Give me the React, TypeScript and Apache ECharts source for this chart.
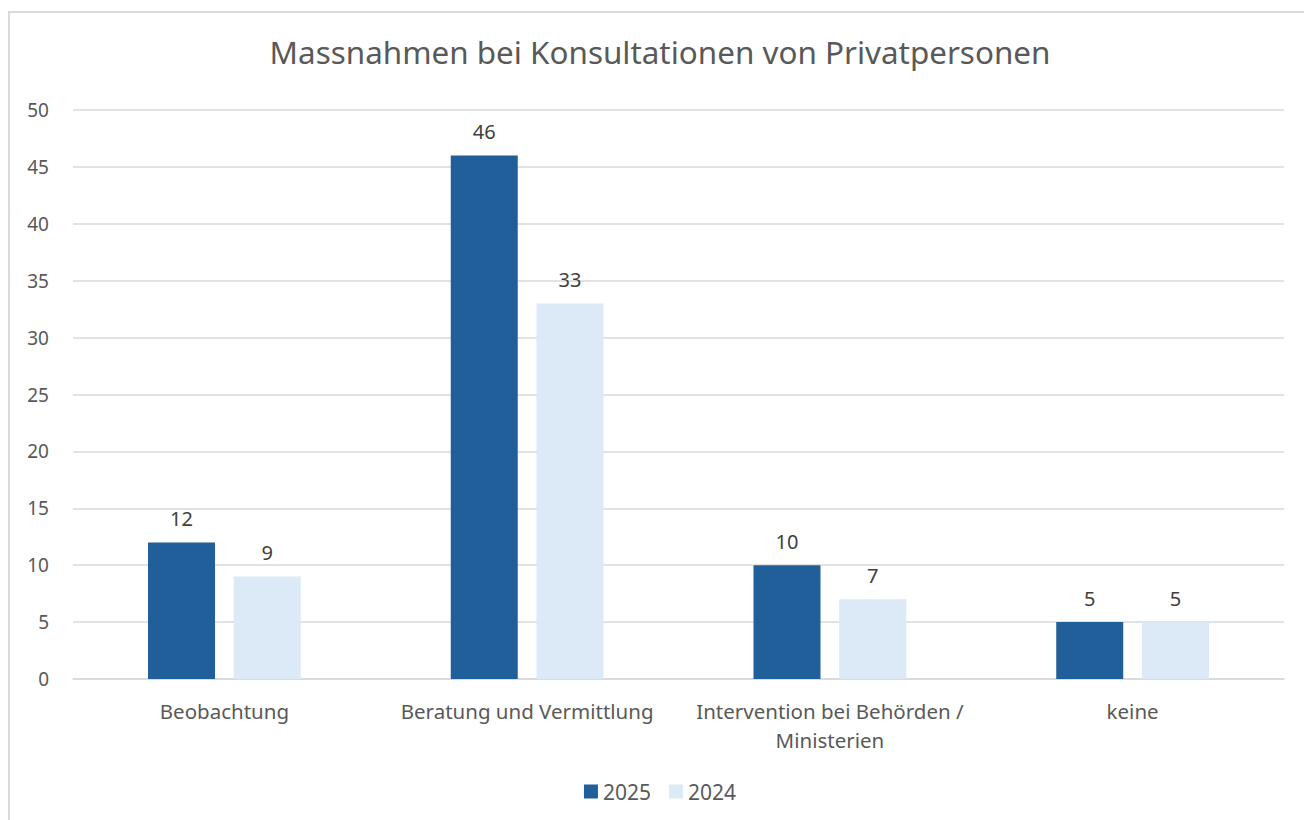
import React, { useEffect, useRef } from "react";
import * as echarts from "echarts";

const title = "Massnahmen bei Konsultationen von Privatpersonen";
const categories = ["Beobachtung", "Beratung und Vermittlung", "Intervention bei Behörden / Ministerien", "keine"];
const seriesNames = ["2025", "2024"];
const values2025 = [12, 46, 10, 5];
const values2024 = [9, 33, 7, 5];
const colors = ["#215F9A", "#DCE9F6"];

const FONT = "'Noto Sans', sans-serif";
const TXT = "#595959";

export default function App() {
  const ref = useRef<HTMLDivElement>(null);
  useEffect(() => {
    if (!ref.current) return;
    const chart = echarts.init(ref.current, undefined, { renderer: "svg" });
    const label = {
      show: true,
      position: "top" as const,
      distance: 14,
      color: "#404040",
      fontSize: 20,
      fontFamily: FONT,
    };
    chart.setOption({
      animation: false,
      textStyle: { fontFamily: FONT },
      title: {
        text: title,
        left: "center",
        top: 23,
        textStyle: { fontSize: 31.4, fontWeight: "normal", color: TXT, fontFamily: FONT },
      },
      graphic: [
        {
          type: "rect",
          shape: { x: 1, y: 4, width: 1400, height: 900 },
          style: { fill: "none", stroke: "#D9D9D9", lineWidth: 2 },
          silent: true,
        },
      ],
      legend: {
        data: seriesNames,
        bottom: 13,
        left: "center",
        itemWidth: 14,
        itemHeight: 14,
        itemGap: 18,
        icon: "rect",
        textStyle: { fontSize: 21, color: TXT, fontFamily: FONT },
      },
      grid: { left: 65, right: 28, top: 102, bottom: 141, containLabel: false },
      xAxis: {
        type: "category",
        data: categories,
        axisLine: { lineStyle: { color: "#D9D9D9", width: 1.5 } },
        axisTick: { show: false },
        axisLabel: {
          color: TXT,
          fontSize: 20.5,
          fontFamily: FONT,
          margin: 17,
          lineHeight: 29,
          interval: 0,
          formatter: (v: string) => v.replace(" / ", " /\n"),
        },
      },
      yAxis: {
        type: "value",
        min: 0,
        max: 50,
        interval: 5,
        axisLine: { show: false },
        axisTick: { show: false },
        splitLine: { lineStyle: { color: "#D9D9D9", width: 1.5 } },
        axisLabel: { color: TXT, fontSize: 19, fontFamily: FONT, margin: 24 },
      },
      series: [
        {
          name: seriesNames[0],
          type: "bar",
          data: values2025,
          barWidth: 67,
          barGap: "28%",
          itemStyle: { color: colors[0] },
          label,
        },
        {
          name: seriesNames[1],
          type: "bar",
          data: values2024,
          barWidth: 67,
          barGap: "28%",
          itemStyle: { color: colors[1] },
          label,
        },
      ],
    });
    return () => chart.dispose();
  }, []);
  return <div ref={ref} style={{ width: 1304, height: 812 }} />;
}
